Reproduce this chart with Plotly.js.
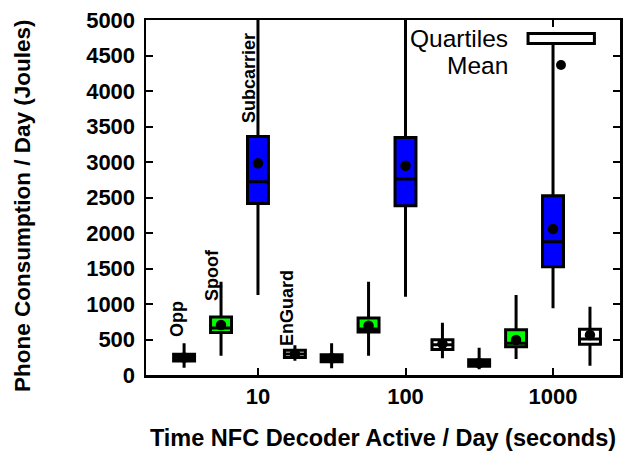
<!DOCTYPE html>
<html>
<head>
<meta charset="utf-8">
<script src="https://cdn.plot.ly/plotly-3.0.1.min.js"></script>
<style>html,body{margin:0;padding:0;background:#fff;}#chart{width:634px;height:455px;}</style>
</head>
<body>
<div id="chart"></div>
<script>
// ---- data ----
var seriesNames = ['Opp', 'Spoof', 'Subcarrier', 'EnGuard'];
var decadeTimes = [10, 100, 1000];           // seconds (x tick values)
var xTickLabels = ['10', '100', '1000'];

var oppLow    = [103, 94, 80];
var oppQ1     = [197, 186, 124];
var oppMedian = [240, 232, 165];
var oppQ3     = [294, 284, 214];
var oppHigh   = [446, 446, 385];
var oppMean   = [245, 236, 170];

var spoofLow    = [272, 272, 225];
var spoofQ1     = [599, 606, 397];
var spoofMedian = [662, 648, 446];
var spoofQ3     = [817, 803, 637];
var spoofHigh   = [1314, 1314, 1127];
var spoofMean   = [704, 694, 493];

var subLow    = [1127, 1103, 939];
var subQ1     = [2415, 2383, 1524];
var subMedian = [2723, 2760, 1878];
var subQ3     = [3359, 3345, 2524];
var subHigh   = [5800, 5800, 4700];
var subMean   = [2982, 2948, 2056];

var engLow    = [201, 235, 131];
var engQ1     = [246, 359, 434];
var engMedian = [295, 425, 507];
var engQ3     = [350, 496, 645];
var engHigh   = [420, 737, 962];
var engMean   = [300, 440, 563];

var yTickVals = [0, 500, 1000, 1500, 2000, 2500, 3000, 3500, 4000, 4500, 5000];

// ---- presentation ----
var spread = 1.78;                              // horizontal spreading of the 4 series around each decade
var posFactor = [1 / (spread * spread), 1 / spread, 1, spread];
var fills = ['#000000', '#00ff00', '#0000ff', '#ffffff'];
var labelBottom = [507, 1014, 3521, 380];       // where each series name starts (J)
var labelShift = [-7, -9, -9, -8];

var stats = [
  [oppLow, oppQ1, oppMedian, oppQ3, oppHigh, oppMean],
  [spoofLow, spoofQ1, spoofMedian, spoofQ3, spoofHigh, spoofMean],
  [subLow, subQ1, subMedian, subQ3, subHigh, subMean],
  [engLow, engQ1, engMedian, engQ3, engHigh, engMean]
];

var FONT = 'Liberation Sans, Arial, sans-serif';
var traces = [];
var meanX = [], meanY = [];
stats.forEach(function (s, i) {
  var xs = decadeTimes.map(function (t) { return t * posFactor[i]; });
  traces.push({
    type: 'box',
    name: seriesNames[i],
    x: xs,
    lowerfence: s[0], q1: s[1], median: s[2], q3: s[3], upperfence: s[4],
    width: 0.142,
    whiskerwidth: 0,
    boxpoints: false,
    fillcolor: fills[i],
    line: { color: '#000000', width: 3 },
    showlegend: false,
    hoverinfo: 'skip'
  });
  xs.forEach(function (x, j) { meanX.push(x); meanY.push(s[5][j]); });
});
traces.push({
  type: 'scatter', mode: 'markers', name: 'Mean',
  x: meanX, y: meanY,
  marker: { color: '#000000', size: 10.5 },
  showlegend: false, hoverinfo: 'skip'
});

var annotations = seriesNames.map(function (n, i) {
  return {
    text: '<b>' + n + '</b>',
    x: Math.log10(decadeTimes[0] * posFactor[i]), xref: 'x',
    y: labelBottom[i], yref: 'y',
    textangle: -90, xanchor: 'center', yanchor: 'bottom',
    xshift: labelShift[i],
    showarrow: false,
    font: { family: FONT, size: 18, color: '#000' }
  };
});
// y-axis title (placed as in the reference, slightly below plot centre)
annotations.push({ text: '<b>Phone Consumption / Day (Joules)</b>', xref: 'paper', yref: 'paper',
  x: -0.2616, y: 0.476, xanchor: 'center', yanchor: 'middle', textangle: -90, showarrow: false,
  font: { family: FONT, size: 22.5, color: '#000' } });
// manual key (text left of its symbol, as in the reference)
annotations.push({ text: 'Quartiles', xref: 'paper', yref: 'paper', x: 0.768, y: 0.949,
  xanchor: 'right', yanchor: 'middle', showarrow: false, font: { family: FONT, size: 24.5, color: '#000' } });
annotations.push({ text: 'Mean', xref: 'paper', yref: 'paper', x: 0.768, y: 0.873,
  xanchor: 'right', yanchor: 'middle', showarrow: false, font: { family: FONT, size: 24.5, color: '#000' } });

var shapes = [
  { type: 'rect', xref: 'paper', yref: 'paper', x0: 0.806, x1: 0.946, y0: 0.934, y1: 0.962,
    line: { color: '#000', width: 3 }, fillcolor: '#fff', layer: 'above' },
  { type: 'circle', xref: 'paper', yref: 'paper', x0: 0.8755 - 0.0105, x1: 0.8755 + 0.0105,
    y0: 0.873 - 0.0141, y1: 0.873 + 0.0141, line: { color: '#000', width: 0 }, fillcolor: '#000', layer: 'above' }
];

var axisCommon = {
  showgrid: false, zeroline: false, showline: true, linecolor: '#000', linewidth: 2.5,
  mirror: 'ticks', ticks: 'inside', ticklen: 7, tickwidth: 2, tickcolor: '#000',
  tickfont: { family: FONT, size: 22, color: '#000', weight: 'bold' }
};

var layout = {
  width: 634, height: 455,
  margin: { l: 146, r: 14, t: 20, b: 80 },
  paper_bgcolor: '#fff', plot_bgcolor: '#fff',
  showlegend: false,
  boxmode: 'overlay',
  xaxis: Object.assign({}, axisCommon, {
    type: 'log', range: [0.241, 3.454],
    tickmode: 'array', tickvals: decadeTimes, ticktext: xTickLabels,
    title: { text: 'Time NFC Decoder Active / Day (seconds)', standoff: 22,
      font: { family: FONT, size: 23.5, color: '#000', weight: 'bold' } }
  }),
  yaxis: Object.assign({}, axisCommon, {
    range: [0, 5000], tickmode: 'array', tickvals: yTickVals,
    ticklabelstandoff: 4
  }),
  annotations: annotations,
  shapes: shapes
};

Plotly.newPlot('chart', traces, layout, { staticPlot: true, displayModeBar: false });
</script>
</body>
</html>
